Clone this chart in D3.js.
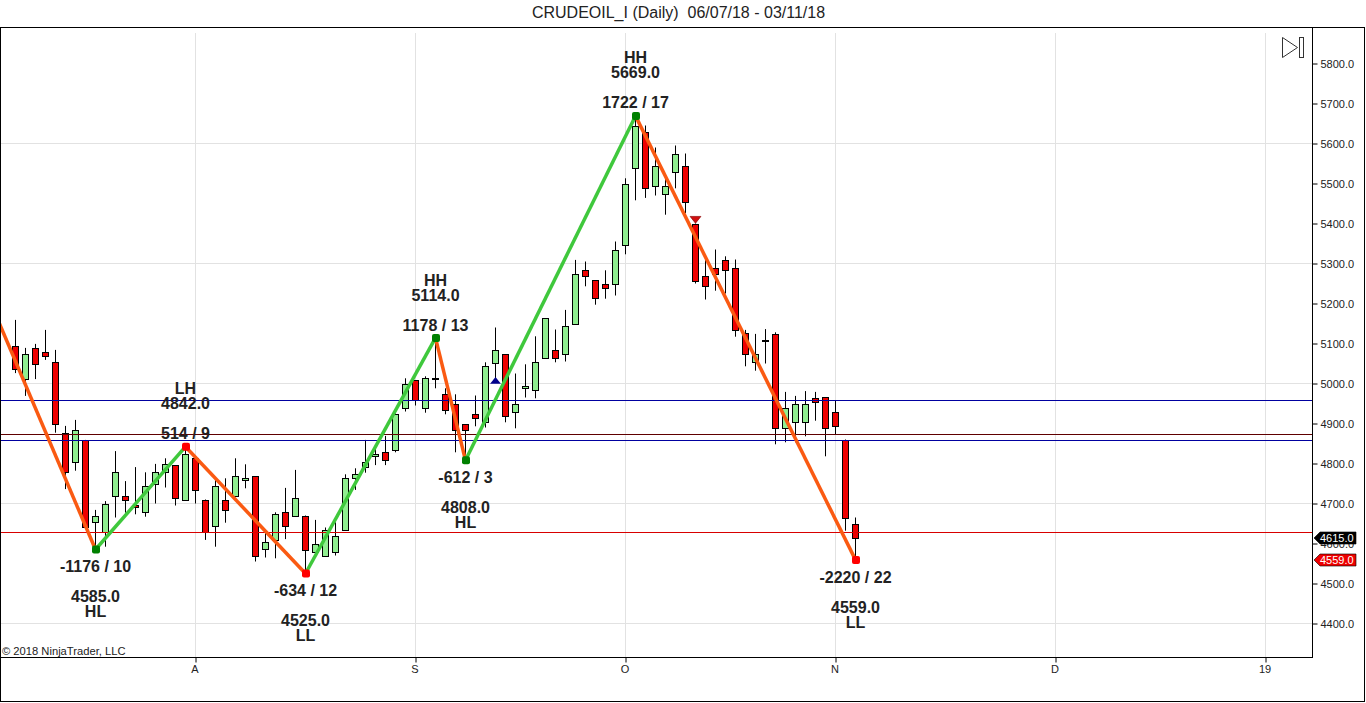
<!DOCTYPE html>
<html><head><meta charset="utf-8">
<script src="https://d3js.org/d3.v7.min.js"></script>
<style>html,body{margin:0;padding:0;background:#fff;overflow:hidden}svg{display:block}text{font-family:"Liberation Sans",Arial,sans-serif}</style>
</head><body><svg id="c" width="1366" height="703"></svg>
<script>
const opens =[5093,5012,5090,5078,5055,4875,4803,4859,4653,4629,4720,4718,4695,4678,4748,4780,4796,4708,4815,4710,4643,4710,4718,4758,4768,4586,4608,4680,4670,4670,4580,4570,4580,4633,4763,4790,4818,4830,4833,4938,5008,4940,5011,4973,4948,4898,4923,4905,5050,5073,4930,4988,4983,5065,5083,5073,5150,5285,5258,5250,5250,5345,5538,5630,5495,5473,5528,5545,5400,5268,5290,5310,5288,5125,5053,5109,5123,4888,4905,4903,4963,4965,4928,4860,4648];
const closes=[5037,5075,5048,5070,4900,4780,4883,4642,4668,4698,4780,4708,4690,4745,4778,4800,4713,4823,4733,4628,4743,4685,4768,4763,4570,4603,4673,4643,4713,4583,4598,4633,4618,4763,4773,4803,4825,4808,4925,4998,4958,5013,5013,4933,4883,4883,4915,5043,5085,4918,4950,4995,5055,5163,5063,5145,5273,5270,5213,5238,5335,5500,5645,5488,5545,5495,5575,5455,5255,5243,5273,5283,5133,5073,5075,5110,4888,4938,4948,4950,4955,4890,4893,4663,4615];
const highs =[5159,5089,5099,5134,5084,4894,4909,4859,4684,4706,4831,4756,4791,4778,4799,4813,4796,4842,4815,4710,4759,4763,4813,4798,4768,4626,4678,4739,4784,4670,4659,4640,4653,4773,4788,4859,4836,4869,4925,5013,5008,5018,5114,4988,4973,4898,4970,5053,5140,5073,5025,5048,5118,5163,5135,5184,5309,5305,5258,5283,5355,5513,5669,5645,5590,5514,5595,5575,5400,5309,5335,5318,5310,5134,5124,5136,5128,4979,4969,4981,4979,4965,4958,4860,4665];
const lows  =[5026,4969,5011,5059,4877,4736,4782,4642,4585,4592,4665,4677,4673,4667,4700,4740,4695,4708,4700,4609,4592,4652,4718,4738,4555,4565,4563,4611,4670,4525,4580,4570,4570,4633,4734,4777,4796,4796,4828,4930,4945,4927,4988,4923,4828,4808,4893,4890,5013,4903,4888,4965,4963,5063,5053,5055,5148,5243,5197,5212,5220,5323,5458,5464,5470,5422,5488,5426,5250,5210,5232,5225,5117,5043,5032,5050,4848,4853,4853,4868,4907,4818,4873,4632,4559];

const swingIndex=[-2,8,17,29,42,45,62,84];
const swingPrice=[5173,4585,4842,4525,5114,4808,5669,4559];
const swingColor=["#008000","#ff0000","#ff0000","#008000","#008000","#008000","#ff0000"];
const swingLabels=[
 {i:8,p:4585,lines:[["-1176 / 10",566],["4585.0",596],["HL",611]]},
 {i:17,p:4842,lines:[["LH",388],["4842.0",403],["514 / 9",433]]},
 {i:29,p:4525,lines:[["-634 / 12",590],["4525.0",620],["LL",635]]},
 {i:42,p:5114,lines:[["HH",280],["5114.0",295],["1178 / 13",325]]},
 {i:45,p:4808,lines:[["-612 / 3",477],["4808.0",507],["HL",522]]},
 {i:62,p:5669,lines:[["HH",57],["5669.0",72],["1722 / 17",102]]},
 {i:84,p:4559,lines:[["-2220 / 22",577],["4559.0",607],["LL",622]]}
];
const hLevels=[4958,4873,4860,4630];
const hColors=["#0000a0","#600000","#0000a0","#d80000"];
const yTicks=d3.range(4400,5801,100);
const yGrid=[4400,4700,5000,5300,5600];
const xTickIdx=[18,40,61,82,104,125];
const xTickLab=["A","S","O","N","D","19"];
const flags=[[4615,"#000000"],[4559,"#ee0000"]];
const title="CRUDEOIL_I (Daily)  06/07/18 - 03/11/18";

const svg=d3.select("#c");
const x=d3.scaleLinear().domain([0,125]).range([15.5,1265.5]);
const y=d3.scaleLinear().domain([5800,4400]).range([63.5,623.5]);
const cand=d3.range(opens.length).map(i=>({i,o:opens[i],c:closes[i],h:highs[i],l:lows[i]}));

svg.append("text").attr("x",678.5).attr("y",18).attr("text-anchor","middle").attr("font-size",16).attr("fill","#222").style("white-space","pre").text(title);
svg.append("rect").attr("x",.5).attr("y",27.5).attr("width",1364).attr("height",674).attr("fill","none").attr("stroke","#000");

const defs=svg.append("defs");
defs.append("clipPath").attr("id","plot").append("rect").attr("x",1).attr("y",28).attr("width",1311.5).attr("height",629);
const plot=svg.append("g").attr("clip-path","url(#plot)");

plot.selectAll(".gy").data(yGrid).join("line").attr("x1",1).attr("x2",1312).attr("y1",d=>y(d)).attr("y2",d=>y(d)).attr("stroke","#e2e2e2");
plot.selectAll(".gx").data(xTickIdx).join("line").attr("x1",d=>x(d)).attr("x2",d=>x(d)).attr("y1",33).attr("y2",657).attr("stroke","#e2e2e2");

const cg=plot.append("g");
cg.selectAll("line").data(cand).join("line").attr("x1",d=>x(d.i)).attr("x2",d=>x(d.i)).attr("y1",d=>y(d.h)).attr("y2",d=>y(d.l)).attr("stroke","#000");
cg.selectAll("rect").data(cand).join("rect")
 .attr("x",d=>x(d.i)-3.5+0.5).attr("width",6)
 .attr("y",d=>Math.round(y(Math.max(d.o,d.c)))+.5)
 .attr("height",d=>Math.max(1,Math.round(y(Math.min(d.o,d.c)))-Math.round(y(Math.max(d.o,d.c)))))
 .attr("fill",d=>d.c>=d.o?"#90ee90":"#ee0000").attr("stroke","#000");

plot.selectAll(".h").data(hLevels).join("line").attr("x1",1).attr("x2",1312).attr("y1",d=>Math.round(y(d))+.5).attr("y2",d=>Math.round(y(d))+.5).attr("stroke",(d,i)=>hColors[i]);

const tri=d3.symbol().type(d3.symbolTriangle).size(42);
plot.append("path").attr("d",tri()).attr("transform",`translate(${x(48)},${y(5005)}) scale(1.1,0.8)`).attr("fill","#00008b");
plot.append("path").attr("d",tri()).attr("transform",`translate(${x(68)},${y(5412)}) scale(1.1,-0.8)`).attr("fill","#d01010").attr("stroke","#8b0000").attr("stroke-width",.7);

for(let s=0;s<swingIndex.length-1;s++){
  const up=swingPrice[s+1]>swingPrice[s];
  plot.append("line").attr("x1",x(swingIndex[s])).attr("y1",y(swingPrice[s])).attr("x2",x(swingIndex[s+1])).attr("y2",y(swingPrice[s+1]))
   .attr("stroke",up?"#3fc83c":"#fa5a12").attr("stroke-width",3.5);
}
plot.selectAll(".m").data(swingLabels).join("rect").attr("width",8).attr("height",8).attr("rx",2)
 .attr("x",d=>x(d.i)-3.5).attr("y",d=>y(d.p)-4).attr("fill",(d,i)=>swingColor[i]);

swingLabels.forEach(l=>l.lines.forEach(t=>{
 svg.append("text").attr("x",x(l.i)).attr("y",t[1]+5.5).attr("text-anchor","middle").attr("font-size",16).attr("font-weight","bold").attr("fill","#222").text(t[0]);
}));

// play icon
svg.append("path").attr("d","M1282.5 37.5 L1282.5 57.5 L1297.5 47.5 Z").attr("fill","none").attr("stroke","#333");
svg.append("rect").attr("x",1299.5).attr("y",37.5).attr("width",4).attr("height",20).attr("fill","none").attr("stroke","#333");

// axes
const ay=svg.append("g").attr("transform","translate(1312.5,0)").call(d3.axisRight(y).tickValues(yTicks).tickSize(5).tickPadding(3).tickFormat(d3.format(".1f")));
ay.select(".domain").attr("d","M0 28 L0 657");
ay.selectAll("text").attr("font-size",11).attr("font-family","'Liberation Sans',Arial,sans-serif").attr("fill","#222");
const ax=svg.append("g").attr("transform","translate(0,657.5)").call(d3.axisBottom(x).tickValues(xTickIdx).tickSize(5).tickPadding(3).tickFormat((d,i)=>xTickLab[i]));
ax.select(".domain").attr("d","M1 0 L1313 0");
ax.selectAll("text").attr("font-size",11).attr("dx","-1").attr("font-family","'Liberation Sans',Arial,sans-serif").attr("fill","#222");

// price flags
flags.forEach(f=>{
 const Y=Math.round(y(f[0]));
 svg.append("path").attr("d",`M1314 ${Y} L1320 ${Y-6} L1356 ${Y-6} L1356 ${Y+6} L1320 ${Y+6} Z`).attr("fill",f[1]).attr("stroke","#000").attr("stroke-width",.6);
 svg.append("text").attr("x",1320).attr("y",Y+4).attr("font-size",11).attr("fill","#fff").text(f[0].toFixed(1));
});

svg.append("text").attr("x",2).attr("y",655).attr("font-size",11.2).attr("fill","#222").text("© 2018 NinjaTrader, LLC");
</script></body></html>
